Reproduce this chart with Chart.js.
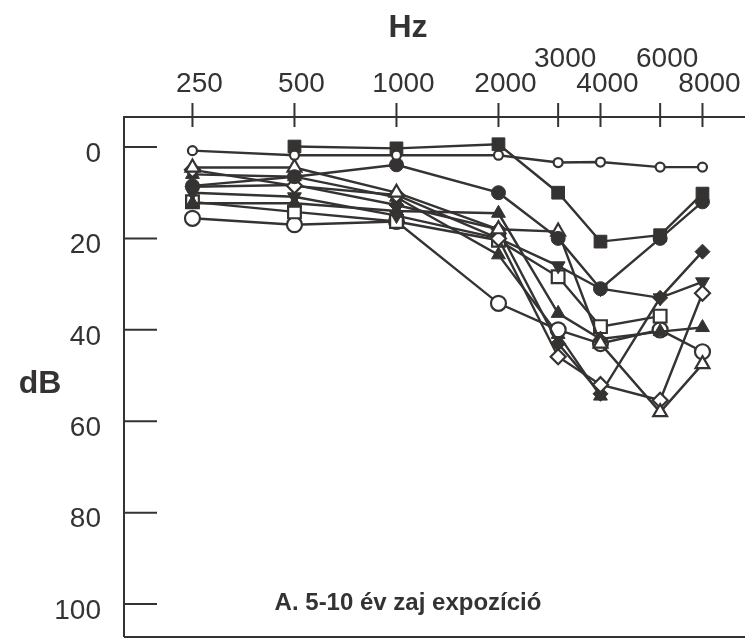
<!DOCTYPE html>
<html lang="hu">
<head>
<meta charset="UTF-8">
<title>Audiogram - 5-10 év zaj expozíció</title>
<script src="https://cdn.jsdelivr.net/npm/chart.js@4.4.1/dist/chart.umd.min.js"></script>
<style>
    html, body { margin: 0; padding: 0; background: #fff; }
    canvas { display: block; }
</style>
</head>
<body>
<canvas id="chart" width="745" height="640"></canvas>
<script>
    // frekvenciák (Hz) és a tengely feliratai
    const freqs = [250, 500, 1000, 2000, 3000, 4000, 6000, 8000];
    const freqLabels = ['250', '500', '1000', '2000', '3000', '4000', '6000', '8000'];
    const raisedLabels = [3000, 6000]; // ezek a felső sorba kerülnek
    const dbTicks = [0, 20, 40, 60, 80, 100];

    // hallásküszöb (dB) frekvenciánként, egy tömb = egy görbe
    const smallCircle   = [0.8, 1.8, 1.8, 1.8, 3.4, 3.3, 4.4, 4.4];
    const filledSquare  = [null, -0.1, 0.3, -0.6, 10, 20.7, 19.3, 10.2];
    const filledCircle  = [8.5, 6.5, 3.9, 10, 20, 31, 20, 12];
    const openTriangle  = [4.5, 4.5, 10, 18, 18.5, 43, 58, 47.5];
    const openDiamond   = [5, 8.5, 10.5, 20, 45.9, 52, 55.4, 32];
    const filledDiamond = [8.7, 8.3, 12.7, 18, 43, 54, 33, 22.9];
    const filledInvTri  = [10, 10.9, 15, 20, 26, 31, 33, 29.5];
    const filledTri     = [12.3, 12.3, 14, 14.5, 36.4, 42, 40.4, 39.5];
    const openSquare    = [12, 14.2, 16.3, 20.4, 28.4, 39.3, 37, null];
    const openCircle    = [15.6, 17, 16.3, 34.2, 40, 43, 40, 44.8];
    const filledTri2    = [6, 6.5, 11, 23.6, 41, 54.5, null, null];

    const ink = '#353232';
    const font = "'Liberation Sans', Arial, sans-serif";

    function serie(values, style, radius, filled, rotation) {
        return {
            data: freqs.map((f, i) => ({ x: f, y: values[i] })),
            borderColor: ink,
            borderWidth: 2.4,
            pointStyle: style,
            pointRadius: radius,
            pointRotation: rotation || 0,
            pointBackgroundColor: filled ? ink : '#fff',
            pointBorderColor: ink,
            pointBorderWidth: filled ? 1 : 2.2,
            tension: 0,
            fill: false
        };
    }

    const datasets = [
        serie(smallCircle, 'circle', 4.5, false),
        serie(filledSquare, 'rect', 9, true),
        serie(filledCircle, 'circle', 7, true),
        serie(openTriangle, 'triangle', 8, false),
        serie(openDiamond, 'rectRot', 7.5, false),
        serie(filledDiamond, 'rectRot', 7.5, true),
        serie(filledInvTri, 'triangle', 8, true, 180),
        serie(filledTri, 'triangle', 8, true),
        serie(openSquare, 'rect', 9, false),
        serie(openCircle, 'circle', 7.5, false),
        serie(filledTri2, 'triangle', 8, true)
    ];

    // keret, rövid osztásjelek és a feliratok
    const frame = {
        id: 'frame',
        afterDraw(chart) {
            const { ctx, chartArea: a, scales: { x, y } } = chart;
            ctx.save();
            ctx.strokeStyle = ink;
            ctx.lineWidth = 2;
            ctx.beginPath();
            ctx.moveTo(a.left, a.bottom);
            ctx.lineTo(a.left, a.top);
            ctx.lineTo(a.right, a.top);
            ctx.moveTo(a.left, a.bottom);
            ctx.lineTo(a.right, a.bottom);
            freqs.forEach(f => {
                const px = x.getPixelForValue(f);
                ctx.moveTo(px, a.top - 14);
                ctx.lineTo(px, a.top + 10);
            });
            dbTicks.forEach(v => {
                const py = y.getPixelForValue(v);
                ctx.moveTo(a.left, py);
                ctx.lineTo(a.left + 33, py);
            });
            ctx.stroke();

            ctx.fillStyle = ink;
            ctx.textAlign = 'center';
            ctx.textBaseline = 'middle';
            ctx.font = 'bold 32px ' + font;
            ctx.fillText('Hz', 408, 28);
            ctx.fillText('dB', 40, 384);
            ctx.font = 'bold 24px ' + font;
            ctx.fillText('A. 5-10 év zaj expozíció', 408, 603);
            ctx.restore();
        }
    };

    // a feliratok kilógása ne szűkítse a rajzterületet
    function noOverhang(s) {
        s.paddingLeft = 0;
        s.paddingRight = 0;
        s.paddingTop = 0;
        s.paddingBottom = 0;
    }

    new Chart(document.getElementById('chart'), {
        type: 'line',
        data: { datasets },
        options: {
            responsive: false,
            animation: false,
            layout: { autoPadding: false, padding: { left: 0, right: 0, top: 0, bottom: 3 } },
            plugins: { legend: { display: false }, tooltip: { enabled: false } },
            scales: {
                x: {
                    type: 'logarithmic',
                    position: 'top',
                    min: 157,
                    max: 10680,
                    grid: { display: false, drawTicks: false },
                    border: { display: false },
                    afterBuildTicks: s => { s.ticks = freqs.map(v => ({ value: v })); },
                    afterFit: s => { s.height = 117; noOverhang(s); },
                    ticks: {
                        autoSkip: false,
                        maxRotation: 0,
                        minRotation: 0,
                        padding: 20,
                        labelOffset: 7,
                        color: ink,
                        font: { family: font, size: 28, lineHeight: 0.89 },
                        callback: v => {
                            const lab = freqLabels[freqs.indexOf(v)];
                            return raisedLabels.includes(v) ? [lab, ''] : lab;
                        }
                    }
                },
                y: {
                    type: 'linear',
                    reverse: true,
                    min: -6.56,
                    max: 107.2,
                    grid: { display: false, drawTicks: false },
                    border: { display: false },
                    afterBuildTicks: s => { s.ticks = dbTicks.map(v => ({ value: v })); },
                    afterFit: s => { s.width = 124; noOverhang(s); },
                    ticks: {
                        padding: 23,
                        labelOffset: 7,
                        color: ink,
                        font: { family: font, size: 28 },
                        callback: v => String(v)
                    }
                }
            }
        },
        plugins: [frame]
    });
</script>
</body>
</html>
